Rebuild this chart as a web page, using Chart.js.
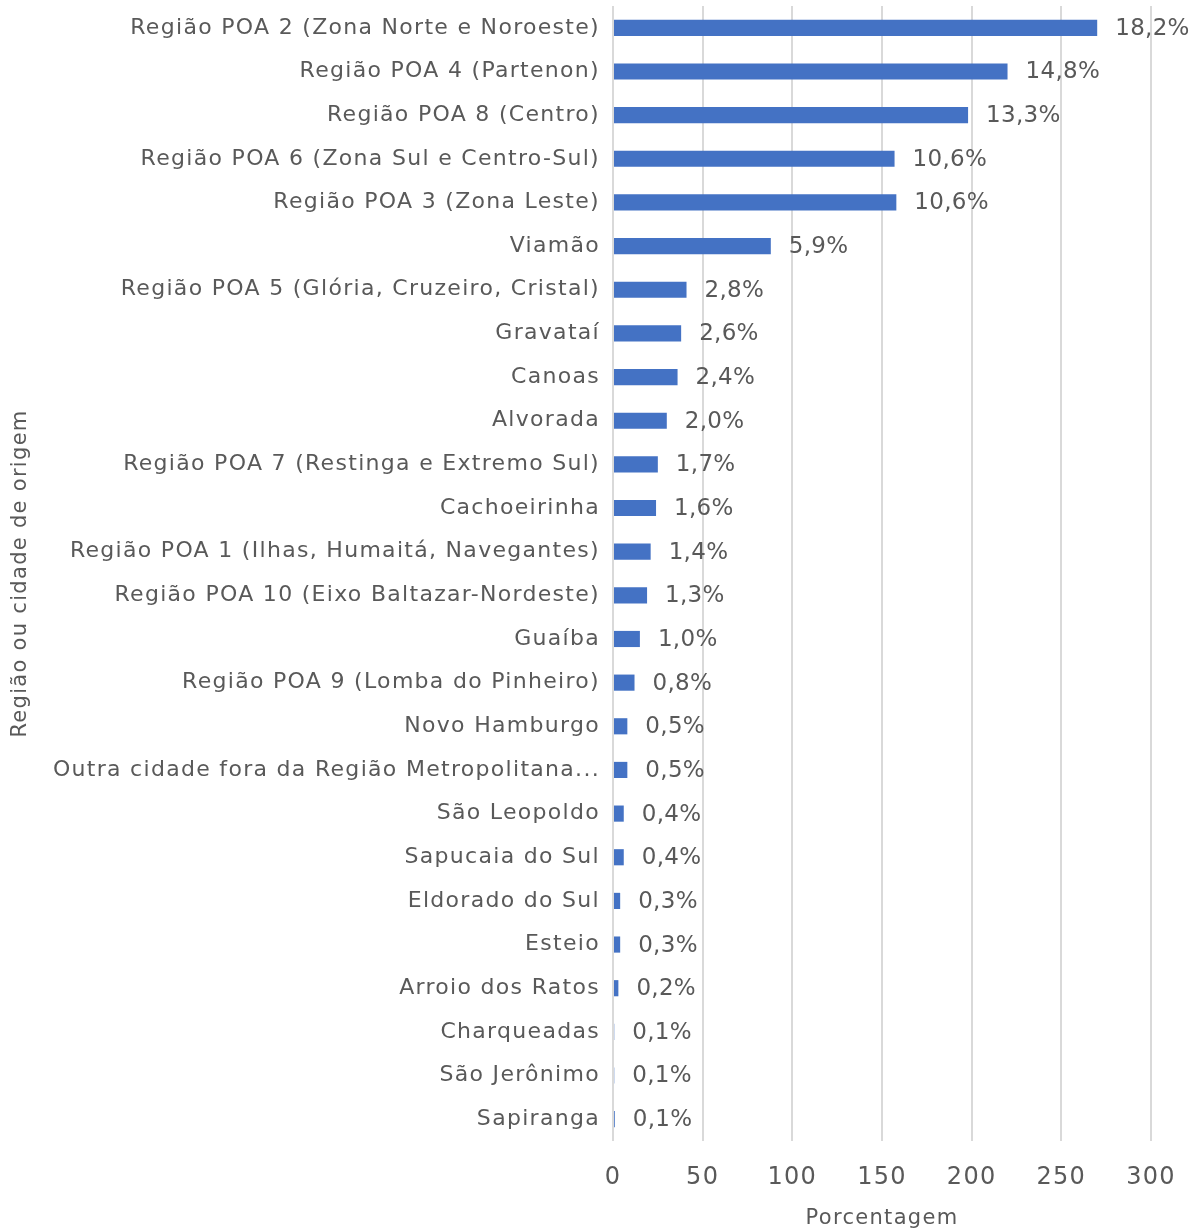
<!DOCTYPE html>
<html>
<head>
<meta charset="utf-8">
<script src="https://cdn.jsdelivr.net/npm/chart.js@4.4.0/dist/chart.umd.min.js"></script>
<style>
  html, body { margin: 0; padding: 0; background: #fff; }
  #wrap { width: 1194px; height: 1231px; }
</style>
</head>
<body>
<div id="wrap"><canvas id="origemChart"></canvas></div>
<script>
const categories = [
  'Região POA 2 (Zona Norte e Noroeste)',
  'Região POA 4 (Partenon)',
  'Região POA 8 (Centro)',
  'Região POA 6 (Zona Sul e Centro-Sul)',
  'Região POA 3 (Zona Leste)',
  'Viamão',
  'Região POA 5 (Glória, Cruzeiro, Cristal)',
  'Gravataí',
  'Canoas',
  'Alvorada',
  'Região POA 7 (Restinga e Extremo Sul)',
  'Cachoeirinha',
  'Região POA 1 (Ilhas, Humaitá, Navegantes)',
  'Região POA 10 (Eixo Baltazar-Nordeste)',
  'Guaíba',
  'Região POA 9 (Lomba do Pinheiro)',
  'Novo Hamburgo',
  'Outra cidade fora da Região Metropolitana...',
  'São Leopoldo',
  'Sapucaia do Sul',
  'Eldorado do Sul',
  'Esteio',
  'Arroio dos Ratos',
  'Charqueadas',
  'São Jerônimo',
  'Sapiranga'
];
const counts = [270, 220, 198, 157, 158, 88, 41, 38, 36, 30, 25, 24, 21, 19, 15, 12, 8, 8, 6, 6, 4, 4, 3, 0.7, 0.7, 1];
const pctLabels = ['18,2%', '14,8%', '13,3%', '10,6%', '10,6%', '5,9%', '2,8%', '2,6%', '2,4%', '2,0%', '1,7%', '1,6%', '1,4%', '1,3%', '1,0%', '0,8%', '0,5%', '0,5%', '0,4%', '0,4%', '0,3%', '0,3%', '0,2%', '0,1%', '0,1%', '0,1%'];
const xTicks = [0, 50, 100, 150, 200, 250, 300];

const FONT = "'DejaVu Sans', sans-serif";
const GREY = '#595959';

// the original font is wider than DejaVu, a little letter spacing helps
const spacing = {
  id: 'spacing',
  beforeLayout(chart) { chart.ctx.letterSpacing = '1.3px'; },
  beforeDraw(chart) { chart.ctx.letterSpacing = '1.3px'; }
};

// draws the percentage next to each bar
const barLabels = {
  id: 'barLabels',
  afterDatasetsDraw(chart) {
    const ctx = chart.ctx;
    const meta = chart.getDatasetMeta(0);
    ctx.save();
    ctx.letterSpacing = '0.3px';
    ctx.font = '23px ' + FONT;
    ctx.fillStyle = GREY;
    ctx.textAlign = 'left';
    ctx.textBaseline = 'middle';
    meta.data.forEach((bar, i) => {
      ctx.fillText(pctLabels[i], bar.x + 18, bar.y + 1);
    });
    ctx.restore();
  }
};

new Chart(document.getElementById('origemChart'), {
  type: 'bar',
  data: {
    labels: categories,
    datasets: [{
      data: counts,
      backgroundColor: '#4472C4',
      borderWidth: 0,
      barPercentage: 0.37,
      categoryPercentage: 1.0
    }]
  },
  options: {
    indexAxis: 'y',
    responsive: true,
    maintainAspectRatio: false,
    animation: false,
    layout: { padding: { top: 6, right: 43, left: 2, bottom: 0 } },
    plugins: {
      legend: { display: false },
      tooltip: { enabled: false }
    },
    scales: {
      x: {
        min: 0,
        max: 300,
        afterBuildTicks(axis) { axis.ticks = xTicks.map(v => ({ value: v })); },
        afterFit(axis) {
          axis.height = 90;
          axis.paddingLeft = 0;
          axis.paddingRight = 0;
        },
        grid: { color: '#d9d9d9', lineWidth: 2, drawTicks: false },
        border: { display: false },
        ticks: { color: GREY, font: { family: FONT, size: 24 }, padding: 22 },
        title: { display: true, text: 'Porcentagem', color: GREY, font: { family: FONT, size: 21 }, padding: 0 }
      },
      y: {
        afterFit(axis) {
          axis.width = 611;
          axis.paddingTop = 0;
          axis.paddingBottom = 0;
        },
        grid: { display: false, drawTicks: false },
        border: { display: false },
        ticks: { color: GREY, font: { family: FONT, size: 22 }, padding: 13, autoSkip: false },
        title: { display: true, text: 'Região ou cidade de origem', color: GREY, font: { family: FONT, size: 21 }, padding: { top: 6, bottom: 0 } }
      }
    }
  },
  plugins: [spacing, barLabels]
});
</script>
</body>
</html>
